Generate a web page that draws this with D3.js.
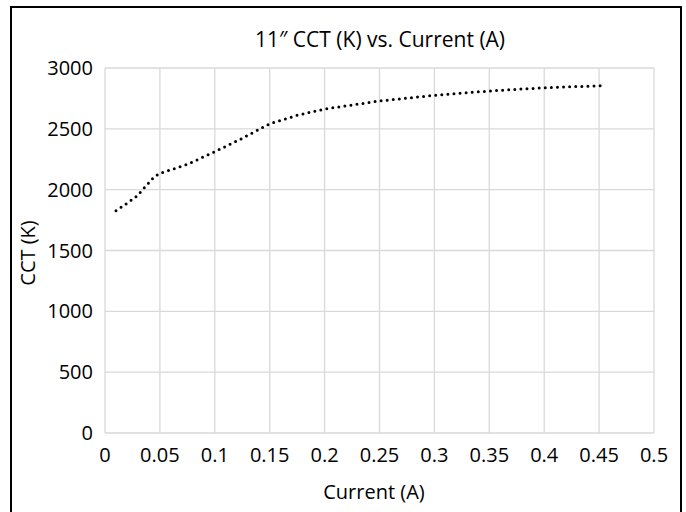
<!DOCTYPE html>
<html>
<head>
<meta charset="utf-8">
<script src="https://cdn.jsdelivr.net/npm/d3@7.9.0/dist/d3.min.js"></script>
<style>
  html, body { margin: 0; padding: 0; background: #fff; }
  svg { display: block; }
  text { font-family: "Open Sans", "Noto Sans", sans-serif; fill: #000; }
</style>
</head>
<body>
<svg id="chart" width="686" height="512"></svg>
<script>
// values
const current = [0.01, 0.02, 0.029, 0.045, 0.05, 0.075, 0.1, 0.125, 0.15, 0.175, 0.2, 0.25, 0.3, 0.35, 0.4, 0.454];
const cct = [1827, 1888, 1947, 2107, 2134, 2208, 2312, 2422, 2542, 2611, 2663, 2729, 2775, 2811, 2838, 2855];
const xTicks = [0, 0.05, 0.1, 0.15, 0.2, 0.25, 0.3, 0.35, 0.4, 0.45, 0.5];
const yTicks = [0, 500, 1000, 1500, 2000, 2500, 3000];

const svg = d3.select('#chart');
const margin = { left: 105, right: 686 - 654, top: 68, bottom: 512 - 433 };
const w = 686, h = 512;

let x = d3.scaleLinear().domain([0, 0.5]).range([margin.left, w - margin.right]);
let y = d3.scaleLinear().domain([0, 3000]).range([h - margin.bottom, margin.top]);

// outer frame
svg.append('rect')
    .attr('x', 11).attr('y', 7)
    .attr('width', 670).attr('height', 520)
    .attr('fill', 'none')
    .attr('stroke', '#000')
    .attr('stroke-width', 2);

// gridlines
svg.append('g')
    .selectAll('line')
    .data(xTicks)
    .join('line')
    .attr('x1', (d) => x(d)).attr('x2', (d) => x(d))
    .attr('y1', y(0)).attr('y2', y(3000))
    .attr('stroke', '#d9d9d9')
    .attr('stroke-width', 1.3);

svg.append('g')
    .selectAll('line')
    .data(yTicks)
    .join('line')
    .attr('x1', x(0)).attr('x2', x(0.5))
    .attr('y1', (d) => y(d)).attr('y2', (d) => y(d))
    .attr('stroke', '#d9d9d9')
    .attr('stroke-width', 1.3);

// tick labels
svg.append('g')
    .selectAll('text')
    .data(xTicks)
    .join('text')
    .attr('x', (d) => x(d))
    .attr('y', y(0) + 29)
    .attr('text-anchor', 'middle')
    .attr('font-size', 20)
    .text((d) => d);

svg.append('g')
    .selectAll('text')
    .data(yTicks)
    .join('text')
    .attr('x', x(0) - 12)
    .attr('y', (d) => y(d) + 7)
    .attr('text-anchor', 'end')
    .attr('font-size', 20)
    .text((d) => d);

// titles
svg.append('text')
    .attr('x', 380).attr('y', 47)
    .attr('text-anchor', 'middle')
    .attr('font-size', 21)
    .text('11\u2033 CCT (K) vs. Current (A)');

svg.append('text')
    .attr('x', 374).attr('y', 499)
    .attr('text-anchor', 'middle')
    .attr('font-size', 20)
    .text('Current (A)');

svg.append('text')
    .attr('transform', 'translate(35,253) rotate(-90)')
    .attr('text-anchor', 'middle')
    .attr('font-size', 20)
    .text('CCT (K)');

// dotted series line
let line = d3.line()
    .x((d, i) => x(current[i]))
    .y((d) => y(d));

svg.append('path')
    .datum(cct)
    .attr('d', line)
    .attr('fill', 'none')
    .attr('stroke', '#000')
    .attr('stroke-width', 3)
    .attr('stroke-linecap', 'round')
    .attr('stroke-dasharray', '0 6.1');
</script>
</body>
</html>
